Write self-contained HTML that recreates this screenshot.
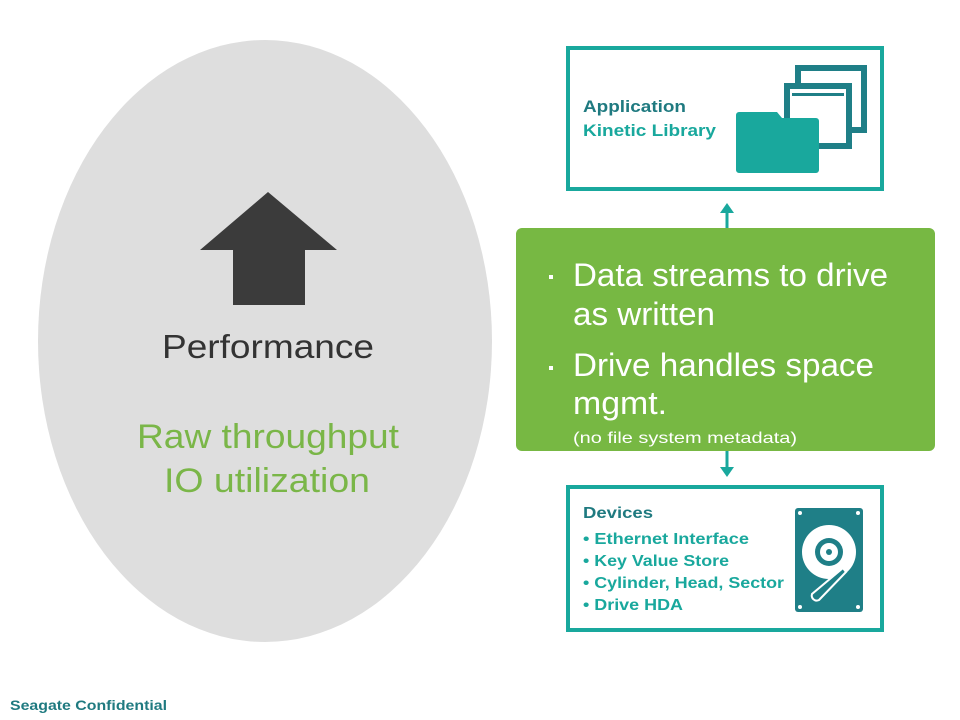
<!DOCTYPE html>
<html><head><meta charset="utf-8"><style>
html,body{margin:0;padding:0;background:#fff;}
body{width:960px;height:720px;position:relative;overflow:hidden;font-family:"Liberation Sans",Arial,sans-serif;}
</style></head><body>
<svg width="960" height="720" viewBox="0 0 960 720" xmlns="http://www.w3.org/2000/svg" style="position:absolute;left:0;top:0">
<ellipse cx="265" cy="341" rx="227" ry="301" fill="#dedede"/>
<polygon points="200,250 268,192 337,250 305,250 305,305 233,305 233,250" fill="#3b3b3b"/>
<g font-family="Liberation Sans, Arial, sans-serif">
<text x="162" y="358" font-size="33" fill="#333" textLength="212" lengthAdjust="spacingAndGlyphs">Performance</text>
<text x="137" y="448" font-size="34" fill="#7ab648" textLength="262" lengthAdjust="spacingAndGlyphs">Raw throughput</text>
<text x="164" y="492" font-size="34" fill="#7ab648" textLength="206" lengthAdjust="spacingAndGlyphs">IO utilization</text>
</g>

<!-- Application box -->
<rect x="568" y="48" width="314" height="141" fill="#fff" stroke="#19a89d" stroke-width="4"/>
<text x="583" y="112" font-family="Liberation Sans, Arial, sans-serif" font-weight="bold" font-size="17" fill="#1f7a80" textLength="103" lengthAdjust="spacingAndGlyphs">Application</text>
<text x="583" y="136" font-family="Liberation Sans, Arial, sans-serif" font-weight="bold" font-size="17" fill="#19a89d" textLength="133" lengthAdjust="spacingAndGlyphs">Kinetic Library</text>
<rect x="798" y="68" width="66" height="62" fill="none" stroke="#1f7f87" stroke-width="6"/>
<rect x="787" y="88" width="64" height="10" fill="#fff"/>
<rect x="787" y="86" width="62" height="60" fill="#fff" stroke="#1f7f87" stroke-width="6"/>
<rect x="792" y="93" width="52" height="3" fill="#1f7f87"/>
<path d="M739,112 h38 l5,6 h34 a3,3 0 0 1 3,3 v49 a3,3 0 0 1 -3,3 h-77 a3,3 0 0 1 -3,-3 v-55 a3,3 0 0 1 3,-3z" fill="#19a89d"/>

<!-- arrows -->
<line x1="727" y1="210" x2="727" y2="229" stroke="#19a89d" stroke-width="3"/>
<polygon points="720,213 727,203 734,213" fill="#19a89d"/>
<line x1="727" y1="450" x2="727" y2="470" stroke="#19a89d" stroke-width="3"/>
<polygon points="720,467 727,477 734,467" fill="#19a89d"/>

<!-- Green box -->
<rect x="516" y="228" width="419" height="223" rx="6" fill="#77b843"/>
<g font-family="Liberation Sans, Arial, sans-serif" fill="#fff">
<rect x="549" y="275" width="4" height="4"/>
<text x="573" y="286" font-size="32" textLength="315" lengthAdjust="spacingAndGlyphs">Data streams to drive</text>
<text x="573" y="325" font-size="32" textLength="142" lengthAdjust="spacingAndGlyphs">as written</text>
<rect x="549" y="366" width="4" height="4"/>
<text x="573" y="376" font-size="32" textLength="301" lengthAdjust="spacingAndGlyphs">Drive handles space</text>
<text x="573" y="414" font-size="32" textLength="94" lengthAdjust="spacingAndGlyphs">mgmt.</text>
<text x="573" y="443" font-size="16" textLength="224" lengthAdjust="spacingAndGlyphs">(no file system metadata)</text>
</g>

<!-- Devices box -->
<rect x="568" y="487" width="314" height="143" fill="#fff" stroke="#19a89d" stroke-width="4"/>
<g font-family="Liberation Sans, Arial, sans-serif" font-weight="bold" font-size="16">
<text x="583" y="518" fill="#1f7a80" textLength="70" lengthAdjust="spacingAndGlyphs">Devices</text>
<text x="583" y="544" fill="#19a89d" textLength="166" lengthAdjust="spacingAndGlyphs">• Ethernet Interface</text>
<text x="583" y="566" fill="#19a89d" textLength="146" lengthAdjust="spacingAndGlyphs">• Key Value Store</text>
<text x="583" y="588" fill="#19a89d" textLength="201" lengthAdjust="spacingAndGlyphs">• Cylinder, Head, Sector</text>
<text x="583" y="610" fill="#19a89d" textLength="100" lengthAdjust="spacingAndGlyphs">• Drive HDA</text>
</g>
<rect x="795" y="508" width="68" height="104" rx="3" fill="#1f7f87"/>
<circle cx="800" cy="513" r="2" fill="#fff"/><circle cx="858" cy="513" r="2" fill="#fff"/>
<circle cx="800" cy="607" r="2" fill="#fff"/><circle cx="858" cy="607" r="2" fill="#fff"/>
<circle cx="829" cy="552" r="27" fill="#fff"/>
<circle cx="829" cy="552" r="14" fill="#1f7f87"/>
<circle cx="829" cy="552" r="9" fill="#fff"/>
<circle cx="829" cy="552" r="3" fill="#1f7f87"/>
<path d="M843,568 L812,594 a5,5 0 0 0 7,6 L846,572z" fill="#1f7f87" stroke="#fff" stroke-width="2"/>
<text x="10" y="710" font-family="Liberation Sans, Arial, sans-serif" font-weight="bold" font-size="14" fill="#1f7a80" textLength="157" lengthAdjust="spacingAndGlyphs">Seagate Confidential</text>
</svg>
</body></html>
